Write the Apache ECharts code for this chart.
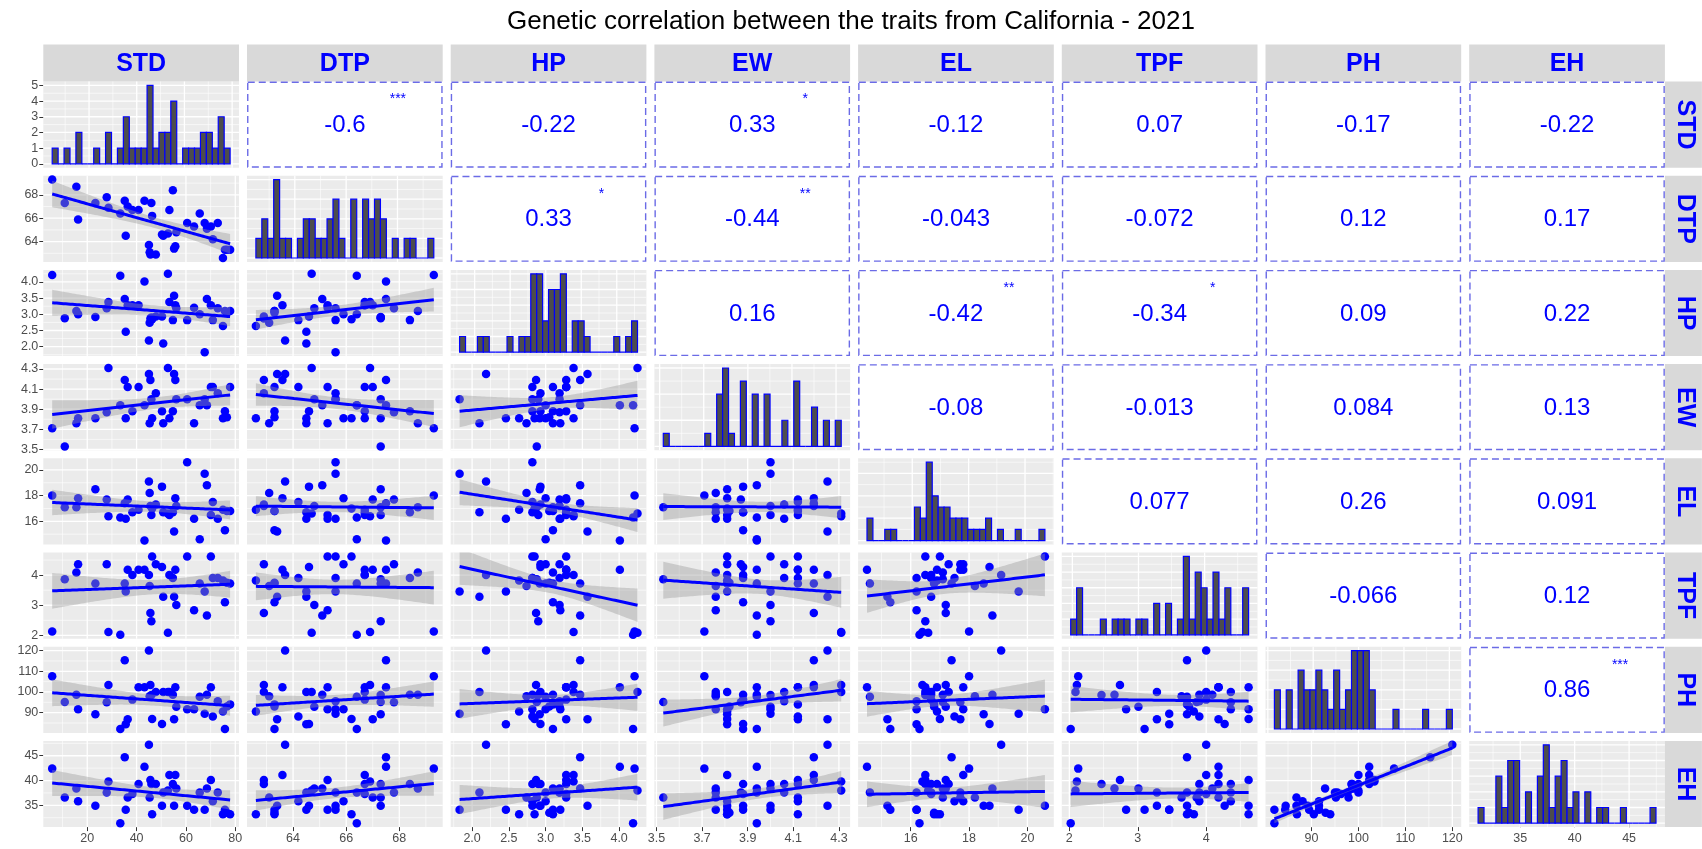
<!DOCTYPE html>
<html>
<head>
<meta charset="utf-8">
<script src="https://cdn.jsdelivr.net/npm/echarts@6/dist/echarts.min.js"></script>
<style>
  html, body { margin: 0; padding: 0; background: #ffffff; }
  #chart { width: 1702px; height: 849px; }
</style>
</head>
<body>
<div id="chart"></div>
<script>
// Trait names (facet strips)
const traits = ['STD', 'DTP', 'HP', 'EW', 'EL', 'TPF', 'PH', 'EH'];

// Per-genotype trait values (one entry per observation, same order in every array)
const STD = [5.8, 10.9, 15.6, 16.3, 23.3, 27.9, 28.6, 33.4, 35.2, 35.6, 36.4, 38.3, 40.8, 43.2, 45.0, 45.3, 45.6, 46.0, 46.3, 47.8,
             50.3, 50.8, 52.7, 53.3, 54.7, 55.2, 55.7, 56.1, 60.5, 63.3, 65.6, 67.6, 68.5, 70.1, 70.9, 72.9, 75.0, 75.8, 76.6, 77.9];
const DTP = [69.3, 67.3, 68.7, 65.9, 67.3, 67.8, 66.9, 66.4, 67.5, 64.5, 67.0, 66.7, 66.7, 67.5, 63.7, 63.1, 62.9, 67.3, 66.2, 62.9,
             64.6, 64.5, 64.7, 66.7, 68.4, 63.4, 63.6, 64.8, 65.6, 65.3, 66.4, 65.6, 65.1, 65.3, 64.2, 65.6, 62.6, 63.3, 63.3, 63.3];
const HP  = [4.21, 2.88, 3.10, 3.00, 2.92, 3.19, 3.38, 4.19, 3.47, 2.46, 3.28, 3.28, 3.28, 4.01, 2.19, 2.74, 2.87, 2.90, 2.85, 2.93,
             2.93, 2.10, 4.25, 3.38, 2.82, 3.57, 3.28, 3.19, 2.82, 3.20, 3.00, 1.83, 3.47, 3.28, 2.82, 3.19, 2.64, 3.10, 3.05, 3.10];
const EW  = [3.71, 3.53, 3.76, 3.81, 3.81, 3.87, 4.31, 3.94, 4.19, 3.81, 4.12, 3.88, 4.12, 3.94, 4.25, 3.76, 4.19, 4.00, 3.81, 4.06,
             3.88, 3.76, 4.31, 3.81, 3.88, 4.25, 4.19, 4.00, 4.00, 3.76, 3.94, 4.00, 3.94, 4.12, 4.12, 4.06, 3.81, 3.88, 3.82, 4.12];
const EL  = [18.0, 17.1, 17.1, 17.8, 18.5, 17.7, 16.4, 16.3, 17.4, 16.2, 17.7, 16.7, 16.9, 14.5, 19.1, 18.2, 17.2, 16.5, 17.0, 17.3,
             18.7, 16.7, 16.6, 16.5, 16.7, 15.2, 17.8, 17.2, 20.6, 16.2, 14.6, 19.7, 18.8, 16.5, 17.5, 16.2, 16.9, 15.3, 16.8, 16.8];
const TPF = [2.13, 3.86, 4.09, 4.36, 3.72, 4.36, 2.11, 2.02, 3.72, 3.46, 4.18, 4.00, 4.18, 4.18, 4.00, 3.64, 2.74, 2.47, 4.62, 4.36,
             4.27, 3.28, 2.09, 4.00, 3.90, 3.28, 4.18, 3.01, 4.62, 2.83, 3.72, 3.46, 2.66, 4.62, 3.90, 3.90, 3.82, 3.10, 3.75, 3.72];
const PH  = [107.6, 95.2, 98.7, 91.6, 89.2, 95.0, 103.4, 82.1, 115.3, 84.4, 86.8, 96.3, 102.3, 102.3, 120.0, 97.9, 103.4, 98.5, 86.9, 100.0,
             84.5, 100.0, 100.0, 100.0, 98.7, 86.8, 102.3, 92.9, 91.6, 91.6, 97.7, 89.5, 98.7, 102.3, 88.1, 95.5, 90.5, 82.1, 93.0, 94.0];
const EH  = [42.4, 36.6, 38.4, 35.8, 34.9, 37.6, 39.8, 31.4, 44.7, 34.1, 36.6, 37.3, 39.3, 42.8, 47.2, 36.6, 40.1, 39.3, 33.2, 39.3,
             34.9, 37.6, 38.0, 41.1, 39.3, 34.9, 41.1, 38.4, 34.9, 34.1, 37.6, 34.1, 38.4, 40.1, 35.8, 37.6, 33.2, 34.1, 33.5, 33.2];

// Axis tick labels of each trait
const ticksSTD = [20, 40, 60, 80];
const ticksDTP = [64, 66, 68];
const ticksHP  = [2.0, 2.5, 3.0, 3.5, 4.0];
const ticksEW  = [3.5, 3.7, 3.9, 4.1, 4.3];
const ticksEL  = [16, 18, 20];
const ticksTPF = [2, 3, 4];
const ticksPH  = [80, 90, 100, 110, 120];
const ticksEH  = [35, 40, 45];
const tickDecimals = [0, 0, 1, 1, 0, 0, 0, 0];

// Correlation coefficients shown above the diagonal (row trait x column trait)
const corrText = [
  ['', '-0.6', '-0.22', '0.33', '-0.12', '0.07', '-0.17', '-0.22'],
  ['', '', '0.33', '-0.44', '-0.043', '-0.072', '0.12', '0.17'],
  ['', '', '', '0.16', '-0.42', '-0.34', '0.09', '0.22'],
  ['', '', '', '', '-0.08', '-0.013', '0.084', '0.13'],
  ['', '', '', '', '', '0.077', '0.26', '0.091'],
  ['', '', '', '', '', '', '-0.066', '0.12'],
  ['', '', '', '', '', '', '', '0.86'],
  ['', '', '', '', '', '', '', '']
];
const corrStars = [
  ['', '***', '', '*', '', '', '', ''],
  ['', '', '*', '**', '', '', '', ''],
  ['', '', '', '', '**', '*', '', ''],
  ['', '', '', '', '', '', '', ''],
  ['', '', '', '', '', '', '', ''],
  ['', '', '', '', '', '', '', ''],
  ['', '', '', '', '', '', '', '***'],
  ['', '', '', '', '', '', '', '']
];

const chartTitle = 'Genetic correlation between the traits from California - 2021';

// ---------------------------------------------------------------------------
const FONT = '"Liberation Sans", Arial, Helvetica, sans-serif';
const BLUE = '#0000FF';
const vars = [STD, DTP, HP, EW, EL, TPF, PH, EH];
const tickSets = [ticksSTD, ticksDTP, ticksHP, ticksEW, ticksEL, ticksTPF, ticksPH, ticksEH];
const N = traits.length;

// panel layout
const colLeft = j => 43.3 + 203.7 * j;
const colW = 195.7;
const rowTop = i => 81.5 + 94.2 * i;
const rowH = 86.2;
const stripTop = 44.5, stripThick = 37;

const round10 = v => +v.toFixed(10);
const extentOf = a => [Math.min(...a), Math.max(...a)];
const expand = (lo, hi) => { const d = (hi - lo) * 0.05; return [lo - d, hi + d]; };

function majorsFor(ticks, step, r) {
  let v = ticks[0];
  while (v - step >= r[0] - 1e-9) v = round10(v - step);
  const out = [];
  for (; v <= r[1] + 1e-9; v = round10(v + step)) if (v >= r[0] - 1e-9) out.push(v);
  return out;
}
function minorsFor(majors, step, r) {
  const out = [];
  for (let v = round10(majors[0] - step / 2); v <= r[1] + 1e-9; v = round10(v + step)) {
    if (v >= r[0] - 1e-9) out.push(v);
  }
  return out;
}

// 30 bins, first bin centred on the minimum, right-closed
function bins30(a) {
  const [lo, hi] = extentOf(a);
  const w = (hi - lo) / 29;
  const b0 = lo - w / 2;
  const counts = new Array(30).fill(0);
  a.forEach(v => {
    let k = Math.ceil((v - b0) / w - 1e-7) - 1;
    k = Math.max(0, Math.min(29, k));
    counts[k]++;
  });
  return { w, b0, bars: counts.map((c, k) => [b0 + k * w, b0 + (k + 1) * w, c]) };
}

// least-squares line with 95% confidence band
function lmFit(x, y) {
  const n = x.length;
  const mx = x.reduce((s, v) => s + v, 0) / n, my = y.reduce((s, v) => s + v, 0) / n;
  let sxx = 0, sxy = 0;
  for (let k = 0; k < n; k++) { sxx += (x[k] - mx) ** 2; sxy += (x[k] - mx) * (y[k] - my); }
  const b = sxy / sxx, a = my - b * mx;
  let sse = 0;
  for (let k = 0; k < n; k++) sse += (y[k] - a - b * x[k]) ** 2;
  const s = Math.sqrt(sse / (n - 2));
  const t = 2.0244;
  const [lo, hi] = extentOf(x);
  const pts = [];
  for (let k = 0; k < 80; k++) {
    const x0 = lo + (hi - lo) * k / 79;
    const yh = a + b * x0;
    const se = s * Math.sqrt(1 / n + (x0 - mx) ** 2 / sxx);
    pts.push([x0, yh - t * se, yh + t * se, yh]);
  }
  return pts;
}

// scale information for each trait
const scaleInfo = vars.map((v, k) => {
  const ex = extentOf(v);
  const r = expand(ex[0], ex[1]);
  const ticks = tickSets[k];
  const step = round10(ticks[1] - ticks[0]);
  const hb = bins30(v);
  const hr = expand(hb.b0, hb.b0 + 30 * hb.w);
  return { r, step, ticks, hb, hr, dec: tickDecimals[k] };
});

const grids = [], xAxes = [], yAxes = [], series = [];

function gridLineSeries(g, xr, yr, xMaj, xMin, yMaj, yMin) {
  return {
    type: 'custom', xAxisIndex: g, yAxisIndex: g, silent: true, clip: false, z: 1,
    data: [[xr[0], yr[0]]],
    renderItem: (params, api) => {
      const cs = params.coordSys;
      const kids = [];
      const vline = (v, lw) => {
        const p = api.coord([v, yr[0]]);
        kids.push({ type: 'line', shape: { x1: p[0], y1: cs.y, x2: p[0], y2: cs.y + cs.height }, style: { stroke: '#FFFFFF', lineWidth: lw } });
      };
      const hline = (v, lw) => {
        const p = api.coord([xr[0], v]);
        kids.push({ type: 'line', shape: { x1: cs.x, y1: p[1], x2: cs.x + cs.width, y2: p[1] }, style: { stroke: '#FFFFFF', lineWidth: lw } });
      };
      xMin.forEach(v => vline(v, 0.6));
      yMin.forEach(v => hline(v, 0.6));
      xMaj.forEach(v => vline(v, 1.3));
      yMaj.forEach(v => hline(v, 1.3));
      return { type: 'group', children: kids };
    }
  };
}

function valueAxis(g, r, labels, dec, show) {
  return {
    type: 'value', gridIndex: g, min: r[0], max: r[1], scale: true,
    axisLine: { show: false },
    splitLine: { show: false },
    axisTick: { show: show, customValues: labels, length: 4, lineStyle: { color: '#333333', width: 1 } },
    axisLabel: {
      show: show, customValues: labels, fontSize: 12.5, color: '#4D4D4D', margin: 5, fontFamily: FONT,
      hideOverlap: false, showMinLabel: true, showMaxLabel: true,
      formatter: v => Number(v).toFixed(dec)
    }
  };
}

let g = 0;
for (let i = 0; i < N; i++) {
  for (let j = 0; j <= i; j++) {
    grids.push({ left: colLeft(j), top: rowTop(i), width: colW, height: rowH, show: true, backgroundColor: '#EBEBEB', borderWidth: 0 });
    const showX = i === N - 1, showY = j === 0;
    if (i === j) {
      // histogram on the diagonal
      const si = scaleInfo[j];
      const maxC = Math.max(...si.hb.bars.map(b => b[2]));
      const cStep = maxC <= 5 ? 1 : (maxC <= 12 ? 2 : 5);
      const yr = [-0.05 * maxC, 1.05 * maxC];
      const xMaj = majorsFor(si.ticks, si.step, si.hr);
      const xMin = minorsFor(xMaj, si.step, si.hr);
      const yMaj = majorsFor([0, cStep], cStep, yr);
      const yMin = minorsFor(yMaj, cStep, yr);
      xAxes.push(valueAxis(g, si.hr, xMaj, si.dec, showX));
      yAxes.push(valueAxis(g, yr, yMaj, 0, showY));
      series.push(gridLineSeries(g, si.hr, yr, xMaj, xMin, yMaj, yMin));
      series.push({
        type: 'custom', xAxisIndex: g, yAxisIndex: g, silent: true, z: 2,
        encode: { x: [0, 1], y: 2 },
        data: si.hb.bars,
        renderItem: (params, api) => {
          const a = api.coord([api.value(0), 0]);
          const b = api.coord([api.value(1), api.value(2)]);
          return {
            type: 'rect',
            shape: { x: a[0], y: b[1], width: b[0] - a[0], height: a[1] - b[1] },
            style: { fill: '#4D4D4D', stroke: BLUE, lineWidth: 1.2 }
          };
        }
      });
    } else {
      // scatter with linear fit below the diagonal
      const sx = scaleInfo[j], sy = scaleInfo[i];
      const xMaj = majorsFor(sx.ticks, sx.step, sx.r);
      const xMin = minorsFor(xMaj, sx.step, sx.r);
      const yMaj = majorsFor(sy.ticks, sy.step, sy.r);
      const yMin = minorsFor(yMaj, sy.step, sy.r);
      xAxes.push(valueAxis(g, sx.r, xMaj, sx.dec, showX));
      yAxes.push(valueAxis(g, sy.r, yMaj, sy.dec, showY));
      series.push(gridLineSeries(g, sx.r, sy.r, xMaj, xMin, yMaj, yMin));
      const xs = vars[j], ys = vars[i];
      series.push({
        type: 'scatter', xAxisIndex: g, yAxisIndex: g, silent: true, z: 2,
        symbol: 'circle', symbolSize: 8.5,
        itemStyle: { color: BLUE, opacity: 1 },
        data: xs.map((v, k) => [v, ys[k]])
      });
      const fit = lmFit(xs, ys);
      series.push({
        type: 'custom', xAxisIndex: g, yAxisIndex: g, silent: true, clip: true, z: 3,
        data: [[fit[0][0], fit[0][3]]],
        renderItem: (params, api) => {
          if (params.dataIndex !== 0) return;
          const up = fit.map(p => api.coord([p[0], p[2]]));
          const dn = fit.map(p => api.coord([p[0], p[1]])).reverse();
          return { type: 'polygon', shape: { points: up.concat(dn) }, style: { fill: 'rgba(153,153,153,0.4)' } };
        }
      });
      series.push({
        type: 'line', xAxisIndex: g, yAxisIndex: g, silent: true, clip: true, z: 4,
        showSymbol: false, symbol: 'none',
        lineStyle: { color: BLUE, width: 3 },
        data: fit.map(p => [p[0], p[3]])
      });
    }
    g++;
  }
}

// strips, correlation boxes
const graphic = [];
for (let j = 0; j < N; j++) {
  graphic.push({ type: 'rect', silent: true, shape: { x: colLeft(j), y: stripTop, width: colW, height: stripThick }, style: { fill: '#D9D9D9' } });
  graphic.push({ type: 'text', silent: true, x: colLeft(j) + colW / 2, y: stripTop + stripThick / 2 + 1,
    style: { text: traits[j], fill: BLUE, font: 'bold 25px ' + FONT, align: 'center', verticalAlign: 'middle', textAlign: 'center', textVerticalAlign: 'middle' } });
}
const stripX = colLeft(N - 1) + colW;
for (let i = 0; i < N; i++) {
  graphic.push({ type: 'rect', silent: true, shape: { x: stripX, y: rowTop(i), width: stripThick, height: rowH }, style: { fill: '#D9D9D9' } });
  graphic.push({ type: 'text', silent: true, x: stripX + stripThick / 2 + 1, y: rowTop(i) + rowH / 2, rotation: -Math.PI / 2,
    style: { text: traits[i], fill: BLUE, font: 'bold 25px ' + FONT, align: 'center', verticalAlign: 'middle', textAlign: 'center', textVerticalAlign: 'middle' } });
}
for (let i = 0; i < N; i++) {
  for (let j = i + 1; j < N; j++) {
    const x = colLeft(j), y = rowTop(i);
    graphic.push({ type: 'rect', silent: true, shape: { x: x + 0.75, y: y + 0.75, width: colW - 1.5, height: rowH - 1.5 },
      style: { fill: '#FFFFFF', stroke: '#6B6BE6', lineWidth: 1.4, lineDash: [7, 4] } });
    graphic.push({ type: 'text', silent: true, x: x + colW / 2, y: y + rowH / 2 + 1,
      style: { text: corrText[i][j], fill: BLUE, font: '24px ' + FONT, align: 'center', verticalAlign: 'middle', textAlign: 'center', textVerticalAlign: 'middle' } });
    if (corrStars[i][j]) {
      graphic.push({ type: 'text', silent: true, x: x + colW / 2 + 53, y: y + 18,
        style: { text: corrStars[i][j], fill: BLUE, font: '14px ' + FONT, align: 'center', verticalAlign: 'middle', textAlign: 'center', textVerticalAlign: 'middle' } });
    }
  }
}

const chart = echarts.init(document.getElementById('chart'), null, { renderer: 'canvas' });
chart.setOption({
  animation: false,
  backgroundColor: '#FFFFFF',
  title: {
    text: chartTitle, left: 'center', top: 9, padding: 0,
    textStyle: { fontSize: 26, fontWeight: 'normal', color: '#000000', fontFamily: FONT }
  },
  grid: grids,
  xAxis: xAxes,
  yAxis: yAxes,
  series: series,
  graphic: { elements: graphic }
});
</script>
</body>
</html>
